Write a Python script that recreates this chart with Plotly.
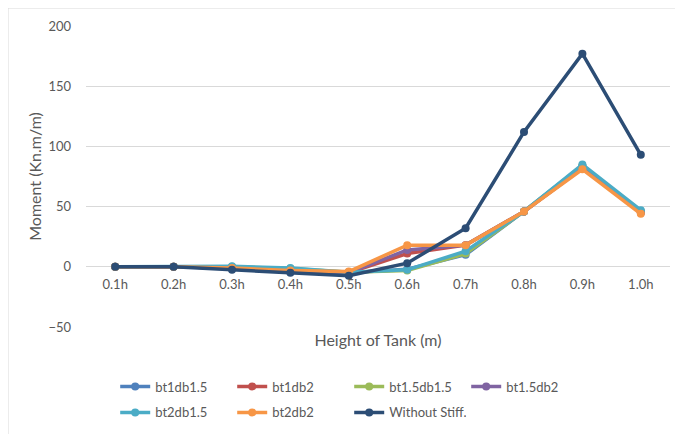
import plotly.graph_objects as go

categories = ["0.1h", "0.2h", "0.3h", "0.4h", "0.5h", "0.6h", "0.7h", "0.8h", "0.9h", "1.0h"]

bt1db1_5 = [0, 0, -0.5, -2, -5, -2, 10, 46, 84, 46]
bt1db2 = [0, 0, -1, -3, -5, 11, 18, 46, 82, 45]
bt1_5db1_5 = [0, 0, 0, -1.5, -4.5, -3, 11, 46, 84, 46]
bt1_5db2 = [0, 0, -1, -3, -5, 14, 18, 46, 82, 45]
bt2db1_5 = [0, 0, 0.5, -1, -4.5, -2.5, 13, 46, 85, 47]
bt2db2 = [0, 0, -1, -3, -4, 18, 18, 46, 81, 44]
without_stiff = [0, 0, -2.5, -5, -7.5, 3, 32, 112, 177, 93]

series_names = ["bt1db1.5", "bt1db2", "bt1.5db1.5", "bt1.5db2", "bt2db1.5", "bt2db2", "Without Stiff."]
series_values = [bt1db1_5, bt1db2, bt1_5db1_5, bt1_5db2, bt2db1_5, bt2db2, without_stiff]
colors = ["#4F81BD", "#C0504D", "#9BBB59", "#8064A2", "#4BACC6", "#F79646", "#2C4D75"]
legend_ids = ["legend", "legend", "legend", "legend", "legend2", "legend2", "legend2"]

fig = go.Figure()
for name, vals, c, lg in zip(series_names, series_values, colors, legend_ids):
    fig.add_trace(go.Scatter(
        x=categories, y=vals, name=name, mode="lines+markers",
        line=dict(color=c, width=3.5), marker=dict(color=c, size=8),
        legend=lg,
    ))

font_color = "#595959"
leg_common = dict(
    orientation="h", x=0.05, xanchor="left", yanchor="top",
    entrywidth=72, entrywidthmode="pixels",
    font=dict(size=13, color=font_color), itemwidth=30,
    bgcolor="rgba(0,0,0,0)",
)
fig.update_layout(
    width=675, height=426,
    margin=dict(l=78, r=13, t=18, b=107, autoexpand=False),
    paper_bgcolor="white", plot_bgcolor="white",
    font=dict(family="Lato, Open Sans, sans-serif", size=13, color=font_color),
    showlegend=True,
    legend=dict(y=-0.148, **leg_common),
    legend2=dict(y=-0.234, **leg_common),
    xaxis=dict(
        type="category", range=[-0.5, 9.5], anchor="free", position=0.2,
        showgrid=False, showline=False, ticks="", ticklabelstandoff=8,
        tickfont=dict(size=13, color=font_color),
        title=dict(text="Height of Tank (m)", standoff=44, font=dict(size=16, color=font_color)),
        zeroline=False,
    ),
    yaxis=dict(
        range=[-50, 200], dtick=50, showgrid=True, gridcolor="#d9d9d9", gridwidth=1,
        zeroline=False, showline=False, ticks="", ticklabelstandoff=14,
        tickfont=dict(size=13, color=font_color),
        title=dict(text="Moment (Kn.m/m)", standoff=2, font=dict(size=16, color=font_color)),
    ),
)

fig.add_shape(type="rect", xref="paper", yref="paper",
              x0=-78 / 584, x1=(700 - 78) / 584,
              y0=(319 - 440) / 301, y1=1 + 18 / 301,
              line=dict(color="#d9d9d9", width=1), layer="below")

fig.write_html("out.html")
